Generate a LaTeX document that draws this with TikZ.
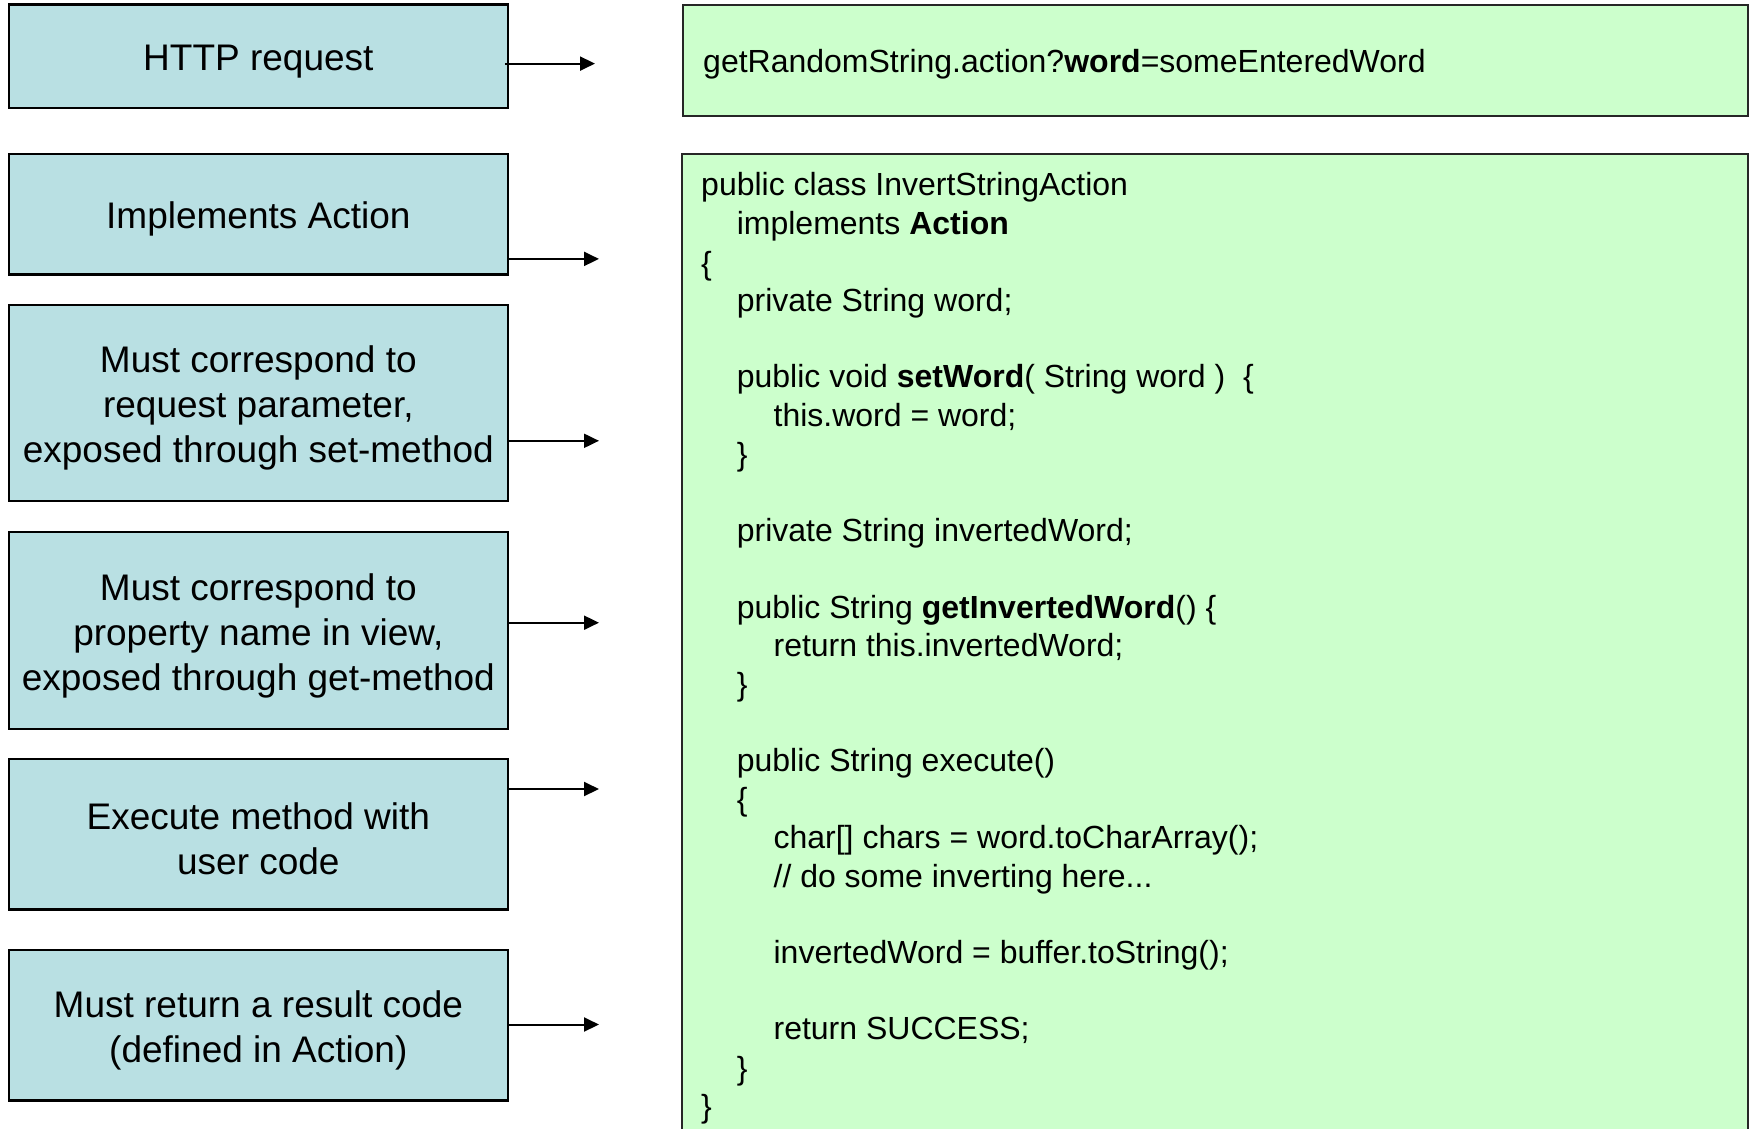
\documentclass[tikz,border=0pt]{standalone}
\usepackage{fontspec}
\setmainfont{Liberation Sans}
\usetikzlibrary{arrows.meta}
\definecolor{lblue}{HTML}{B9E0E3}
\definecolor{lgreen}{HTML}{CCFFCC}
\tikzset{
  lbox/.style={draw=black, line width=2.2pt, fill=lblue, minimum width=499pt, inner sep=0pt},
  ltext/.style={inner sep=0pt, align=center, font=\fontsize{37}{45}\selectfont, yshift=-5pt},
  gbox/.style={draw=black!85, line width=2pt, fill=lgreen},
  code/.style={anchor=base west, inner sep=0pt, font=\fontsize{32}{38}\selectfont},
  arr/.style={line width=2pt, -{Triangle[length=15pt,width=14pt]}},
}
\begin{document}
\begin{tikzpicture}[x=1pt,y=-1pt]
\useasboundingbox (0,0) rectangle (1750,1128);
\begin{scope}
\clip (0,0) rectangle (1750,1128);
% green boxes
\draw[gbox] (683,4.5) rectangle (1747.6,116);
\draw[gbox] (682,154) rectangle (1747.6,1140);
\end{scope}
\node[code, anchor=base west] (url) at (703,72.9) {getRandomString.action?\textbf{word}=someEnteredWord};

% left boxes
\node[lbox, minimum height=103.8pt] (http) at (258.35,56.4) {};
\node[lbox, minimum height=120.5pt] (impl) at (258.35,214.25) {};
\node[lbox, minimum height=196.3pt] (req) at (258.35,402.85) {};
\node[lbox, minimum height=196.4pt] (prop) at (258.35,630.5) {};
\node[lbox, minimum height=150.6pt] (exec) at (258.35,834.2) {};
\node[lbox, minimum height=150.7pt] (ret) at (258.35,1025.05) {};
\node[ltext] (httpt) at (http.center) {HTTP request};
\node[ltext] (implt) at (impl.center) {Implements Action};
\node[ltext] (reqt) at (req.center) {Must correspond to\\request parameter,\\exposed through set-method};
\node[ltext] (propt) at (prop.center) {Must correspond to\\property name in view,\\exposed through get-method};
\node[ltext] (exect) at (exec.center) {Execute method with\\user code};
\node[ltext] (rett) at (ret.center) {Must return a result code\\(defined in Action)};

% arrow tips
\coordinate (t1) at (595,63.6);
\coordinate (t2) at (599,258.9);
\coordinate (t3) at (599,440.8);
\coordinate (t4) at (599,622.7);
\coordinate (t5) at (599,789);
\coordinate (t6) at (599,1024.5);
\draw[arr] ([xshift=-4pt]t1 -| http.east) -- (t1);
\draw[arr] (t2 -| impl.east) -- (t2);
\draw[arr] (t3 -| req.east) -- (t3);
\draw[arr] (t4 -| prop.east) -- (t4);
\draw[arr] (t5 -| exec.east) -- (t5);
\draw[arr] (t6 -| ret.east) -- (t6);

% code
\node[code] (c1) at (701,195.6) {public class InvertStringAction};
\node[code] (c2) at (736.6,234.7) {implements \textbf{Action}};
\node[code] (c3) at (701,274.9) {\{};
\node[code] (c4) at (736.6,311.7) {private String word;};
\node[code] (c5) at (736.6,387.6) {public void \textbf{setWord}( String word )\ \ \{};
\node[code] (c6) at (773.4,426.7) {this.word = word;};
\node[code] (c7) at (736.6,465.7) {\}};
\node[code] (c8) at (736.6,541.6) {private String invertedWord;};
\node[code] (c9) at (736.6,618.6) {public String \textbf{getInvertedWord}() \{};
\node[code] (c10) at (773.4,656.5) {return this.invertedWord;};
\node[code] (c11) at (736.6,695.6) {\}};
\node[code] (c12) at (736.6,771.5) {public String execute()};
\node[code] (c13) at (736.6,810.6) {\{};
\node[code] (c14) at (773.4,848.5) {char[] chars = word.toCharArray();};
\node[code] (c15) at (773.4,887.6) {// do some inverting here...};
\node[code] (c16) at (773.4,963.4) {invertedWord = buffer.toString();};
\node[code] (c17) at (773.4,1039.3) {return SUCCESS;};
\node[code] (c18) at (736.6,1079.5) {\}};
\node[code] (c19) at (701,1117.5) {\}};
\end{tikzpicture}
\end{document}
